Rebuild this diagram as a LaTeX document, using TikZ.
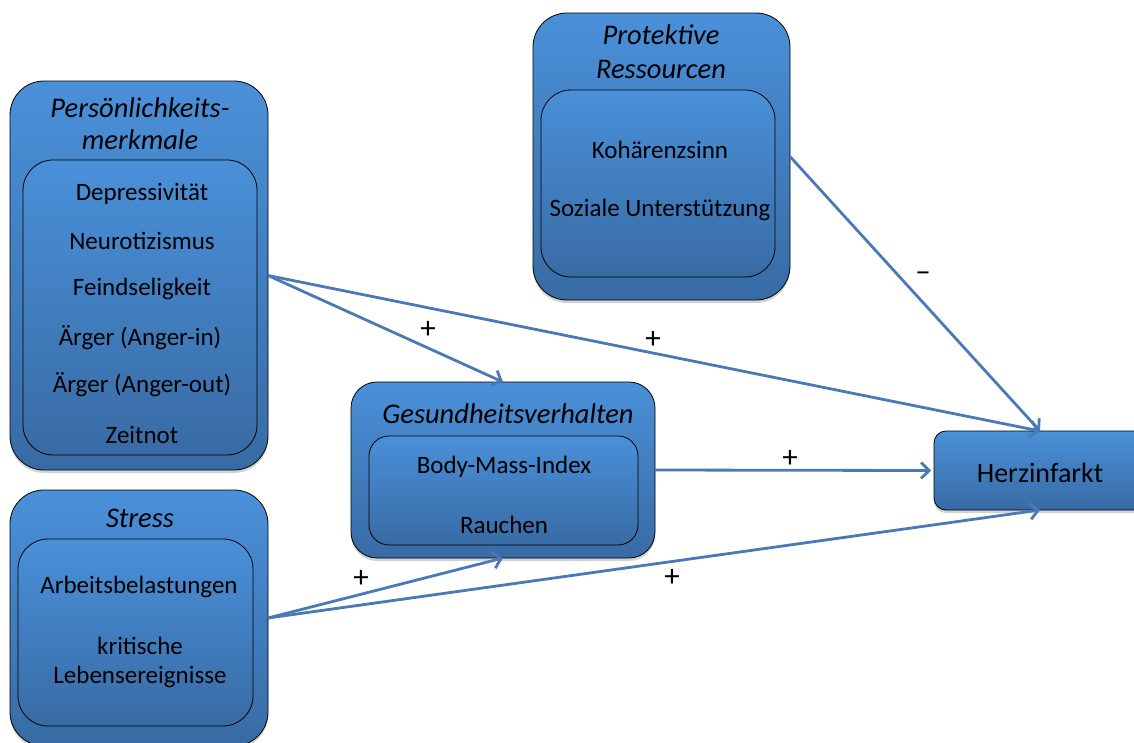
\documentclass[tikz,border=0pt]{standalone}
\usepackage{fontspec}
\setmainfont{Carlito}
\usetikzlibrary{arrows.meta,shadows}
\definecolor{boxtop}{HTML}{4A90D9}
\definecolor{boxbot}{HTML}{386BA4}
\definecolor{arrowc}{HTML}{4A7AB5}
\begin{document}
\begin{tikzpicture}[x=1pt,y=-1pt,
  box/.style={draw=black, line width=0.8pt, top color=boxtop, bottom color=boxbot,
    inner sep=0pt, outer sep=0pt},
  outerbox/.style={box, rounded corners=34pt,
    drop shadow={shadow xshift=0pt, shadow yshift=-3pt, opacity=0.35}},
  innerbox/.style={box, rounded corners=30pt},
  txt/.style={font=\fontsize{25}{30}\selectfont, inner sep=0pt},
  ttl/.style={font=\fontsize{28.5}{34}\selectfont\itshape, inner sep=0pt},
  sgn/.style={font=\fontsize{31}{36}\selectfont, inner sep=0pt},
  conn/.style={draw=arrowc, line width=2.8pt,
    -{Straight Barb[length=8pt,width=16pt,line width=2.8pt]}}
]
\useasboundingbox (0,0) rectangle (1134,742);

% Persoenlichkeitsmerkmale
\node[outerbox, minimum width=258pt, minimum height=389pt] (pers) at (139,275.5) {};
\node[innerbox, minimum width=234pt, minimum height=295pt] (persin) at (140,307.5) {};
\node[ttl] (persT1) at (140,108) {Persönlichkeits-};
\node[ttl] (persT2) at (140,140) {merkmale};
\node[txt] (p1) at (142,194) {Depressivität};
\node[txt] (p2) at (142,241) {Neurotizismus};
\node[txt] (p3) at (142,289) {Feindseligkeit};
\node[txt] (p4) at (140,338) {Ärger (Anger-in)};
\node[txt] (p5) at (142,385) {Ärger (Anger-out)};
\node[txt] (p6) at (142,435) {Zeitnot};

% Protektive Ressourcen
\node[outerbox, minimum width=257pt, minimum height=287pt] (prot) at (661.5,156.5) {};
\node[innerbox, minimum width=234pt, minimum height=187pt] (protin) at (658,183.5) {};
\node[ttl] (protT1) at (661,35) {Protektive};
\node[ttl] (protT2) at (661,69) {Ressourcen};
\node[txt] (r1) at (660,150) {Kohärenzsinn};
\node[txt] (r2) at (660,210) {Soziale Unterstützung};

% Stress
\node[outerbox, minimum width=258pt, minimum height=256pt] (stress) at (139,618) {};
\node[innerbox, minimum width=235pt, minimum height=187pt] (stressin) at (135.5,632.5) {};
\node[ttl] (stressT) at (140,518) {Stress};
\node[txt] (s1) at (139,587) {Arbeitsbelastungen};
\node[txt] (s2) at (140,646) {kritische};
\node[txt] (s3) at (140,677) {Lebensereignisse};

% Gesundheitsverhalten
\node[outerbox, rounded corners=26pt, minimum width=304pt, minimum height=176pt] (ges) at (503,470) {};
\node[innerbox, rounded corners=20pt, minimum width=269pt, minimum height=109pt] (gesin) at (503.5,490.5) {};
\node[ttl] (gesT) at (508,414) {Gesundheitsverhalten};
\node[txt] (g1) at (504,467) {Body-Mass-Index};
\node[txt] (g2) at (504,525) {Rauchen};

% Herzinfarkt
\node[box, rounded corners=12pt, minimum width=212pt, minimum height=79pt,
  drop shadow={shadow xshift=0pt, shadow yshift=-3pt, opacity=0.35}] (herz) at (1040,470.5) {};
\node[font=\fontsize{28}{34}\selectfont, inner sep=0pt] (herzT) at (1040,473) {Herzinfarkt};

% connectors
\draw[conn] (pers.east) -- (ges.north);
\draw[conn] (pers.east) -- (herz.north);
\draw[conn] (prot.east) -- (herz.north);
\draw[conn] (ges.east) -- ([xshift=-3pt]herz.west);
\draw[conn] (stress.east) -- (ges.south);
\draw[conn] (stress.east) -- (herz.south);

% signs
\node[sgn] (l1) at (428,330) {+};
\node[sgn] (l2) at (653,340) {+};
\node[sgn] (l3) at (923,277) {–};
\node[sgn] (l4) at (790,459) {+};
\node[sgn] (l5) at (361,579) {+};
\node[sgn] (l6) at (672,578) {+};
\end{tikzpicture}
\end{document}
